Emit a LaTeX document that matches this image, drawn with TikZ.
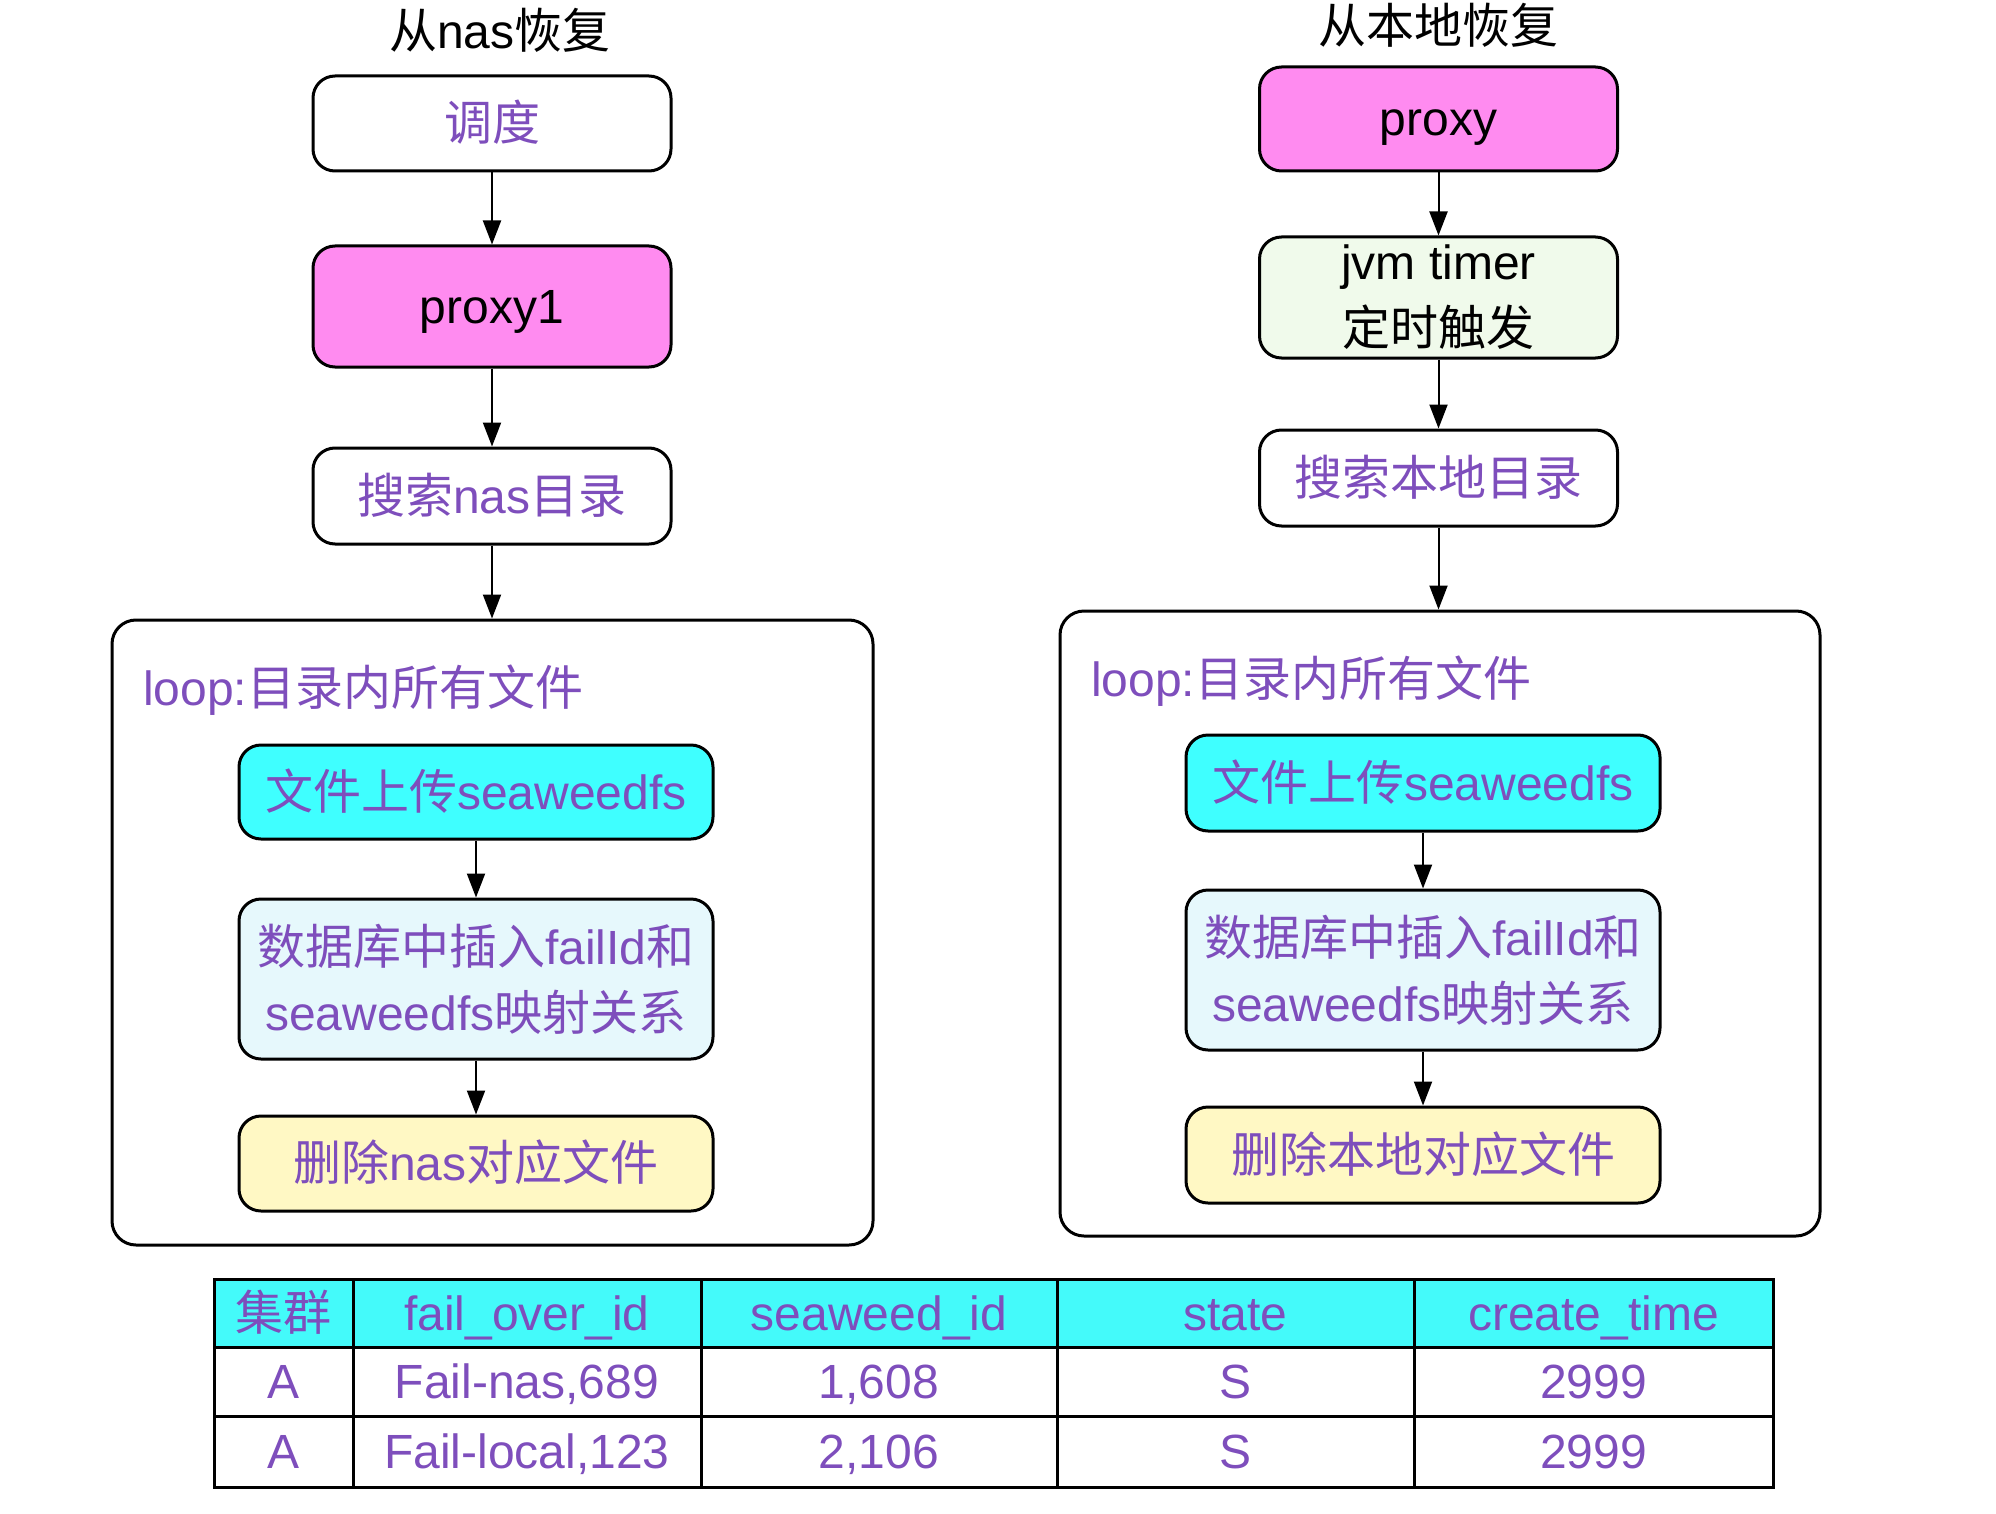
\documentclass[tikz,border=0pt]{standalone}
\usepackage{fontspec}
\setmainfont{Liberation Sans}
\newfontfamily\zhfont{Noto Sans CJK SC}
\newcommand{\zh}[1]{{\zhfont #1}}
\usetikzlibrary{arrows.meta}

\definecolor{txtpurple}{RGB}{126,78,188}
\definecolor{proxypink}{RGB}{255,139,240}
\definecolor{uploadcyan}{RGB}{63,255,255}
\definecolor{dbblue}{RGB}{230,248,252}
\definecolor{delyellow}{RGB}{255,248,196}
\definecolor{timergreen}{RGB}{240,250,235}
\definecolor{headcyan}{RGB}{68,250,250}

\tikzset{
  flowbox/.style={draw,line width=1.5pt,rounded corners=11pt,align=center,
    text=txtpurple,inner sep=2pt},
  oneline/.style={text height=20pt,text depth=3pt},
  loopbox/.style={draw,line width=1.5pt,rounded corners=12pt},
  cell/.style={draw,line width=1.5pt,inner sep=0pt,text=txtpurple,
    text height=20pt,text depth=3pt},
}

\begin{document}
\begin{tikzpicture}[x=0.5pt,y=-0.5pt,>={Triangle[width=9pt,length=12pt]},
  font=\fontsize{24}{33}\selectfont]
\useasboundingbox (0,0) rectangle (1996,1514);

% left: restore from nas
\node[oneline] (t1) at (500,32) {\zh{从}nas\zh{恢复}};
\node[flowbox,oneline,minimum width=179pt,minimum height=47.5pt] (dd) at (492,123.5) {\zh{调度}};
\node[flowbox,oneline,fill=proxypink,text=black,minimum width=179pt,minimum height=60.5pt] (p1) at (492,306.5) {proxy1};
\node[flowbox,oneline,minimum width=179pt,minimum height=48pt] (s1) at (492,496) {\zh{搜索}nas\zh{目录}};
\node[loopbox,minimum width=380.5pt,minimum height=312.5pt] (loop1) at (492.5,932.5) {};
\node[oneline,anchor=west,text=txtpurple] (l1) at (136,688) {loop:\zh{目录内所有文件}};
\node[flowbox,oneline,fill=uploadcyan,minimum width=237pt,minimum height=47pt] (u1) at (476,792) {\zh{文件上传}seaweedfs};
\node[flowbox,fill=dbblue,minimum width=237pt,minimum height=80pt] (db1) at (476,979) {\zh{数据库中插入}failId\zh{和}\\seaweedfs\zh{映射关系}};
\node[flowbox,oneline,fill=delyellow,minimum width=237pt,minimum height=47.5pt] (del1) at (476,1163.5) {\zh{删除}nas\zh{对应文件}};

\draw[->,line width=1pt] (dd) -- (p1);
\draw[->,line width=1pt] (p1) -- (s1);
\draw[->,line width=1pt] (s1.south) -- (s1.south |- loop1.north);
\draw[->,line width=1pt] (u1) -- (db1);
\draw[->,line width=1pt] (db1) -- (del1);

% right: restore from local disk
\node[oneline] (t2) at (1438,27) {\zh{从本地恢复}};
\node[flowbox,oneline,fill=proxypink,text=black,minimum width=179pt,minimum height=52pt] (p2) at (1438.5,119) {proxy};
\node[flowbox,fill=timergreen,text=black,minimum width=179pt,minimum height=60.5pt] (jt) at (1438.5,297.5) {jvm timer\\\zh{定时触发}};
\node[flowbox,oneline,minimum width=179pt,minimum height=48pt] (s2) at (1438.5,478) {\zh{搜索本地目录}};
\node[loopbox,minimum width=380pt,minimum height=312.5pt] (loop2) at (1440,923.5) {};
\node[oneline,anchor=west,text=txtpurple] (l2) at (1084,679) {loop:\zh{目录内所有文件}};
\node[flowbox,oneline,fill=uploadcyan,minimum width=237pt,minimum height=48pt] (u2) at (1423,783) {\zh{文件上传}seaweedfs};
\node[flowbox,fill=dbblue,minimum width=237pt,minimum height=80pt] (db2) at (1423,970) {\zh{数据库中插入}failId\zh{和}\\seaweedfs\zh{映射关系}};
\node[flowbox,oneline,fill=delyellow,minimum width=237pt,minimum height=48pt] (del2) at (1423,1155) {\zh{删除本地对应文件}};

\draw[->,line width=1pt] (p2) -- (jt);
\draw[->,line width=1pt] (jt) -- (s2);
\draw[->,line width=1pt] (s2.south) -- (s2.south |- loop2.north);
\draw[->,line width=1pt] (u2) -- (db2);
\draw[->,line width=1pt] (db2) -- (del2);

% table
\foreach \cx/\cw/\hd/\va/\vb [count=\i] in {
  283.5/139/\zh{集群}/A/A,
  527/348/fail\_over\_id/{Fail-nas,689}/{Fail-local,123},
  879/356/seaweed\_id/{1,608}/{2,106},
  1235.5/357/state/S/S,
  1593.5/359/create\_time/2999/2999}
{
  \node[cell,fill=headcyan,minimum width=\cw*0.5pt,minimum height=34pt] (h\i) at (\cx,1313) {\hd};
  \node[cell,minimum width=\cw*0.5pt,minimum height=34.5pt] (a\i) at (\cx,1381.5) {\va};
  \node[cell,minimum width=\cw*0.5pt,minimum height=35.5pt] (b\i) at (\cx,1451.5) {\vb};
}
\end{tikzpicture}
\end{document}
